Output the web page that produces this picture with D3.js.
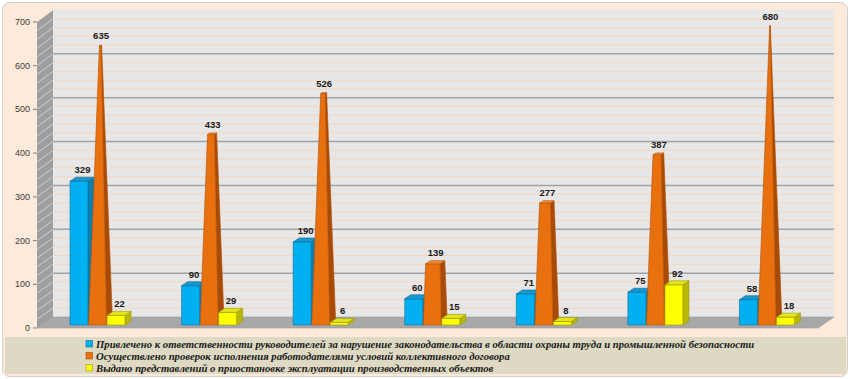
<!DOCTYPE html>
<html><head><meta charset="utf-8">
<script src="https://cdn.jsdelivr.net/npm/d3@7"></script>
<style>html,body{margin:0;padding:0;background:#fff;}svg{display:block;}</style>
</head><body>
<svg id="chart" width="850" height="379"></svg>
<script>
const categories = ["1","2","3","4","5","6","7"];
const seriesNames = [
  "Привлечено к ответственности руководителей за нарушение законодательства в области охраны труда и промышленной безопасности",
  "Осуществлено проверок исполнения работодателями условий коллективного договора",
  "Выдано представлений о приостановке эксплуатации производственных объектов"
];
const blueValues = [329, 90, 190, 60, 71, 75, 58];
const orangeValues = [635, 433, 526, 139, 277, 387, 680];
const yellowValues = [22, 29, 6, 15, 8, 92, 18];
const tickValues = [0, 100, 200, 300, 400, 500, 600, 700];

const seriesData = [blueValues, orangeValues, yellowValues];
const shapes = ["box", "pyramid", "box"];
const colors = [
  {front:"#00b0f0", side:"#0a7fb0", top:"#1896cf", stroke:"#0b6f9e"},
  {front:"#e8700e", side:"#a84b08", top:"#f08a30", stroke:"#b35206"},
  {front:"#ffff00", side:"#b8b800", top:"#e4e41c", stroke:"#9a9a00"}
];

const svg = d3.select("#chart");
svg.append("rect").attr("x",2.5).attr("y",2.5).attr("width",845).attr("height",374).attr("rx",7)
  .attr("fill","#fdeada").attr("stroke","#cfcfcf").attr("stroke-width",1);

const vMax = 700;
const yFront = d3.scaleLinear().domain([0, vMax]).range([328, 22]);
const yBack = d3.scaleLinear().domain([0, vMax]).range([317, 10]);
const yBar = d3.scaleLinear().domain([0, vMax]).range([325, 19]);
const depth = {dx:16, dy:-11};
const frontL = 37, frontR = 818;

const x0 = d3.scaleBand().domain(categories).range([frontL, frontR]);
const x1 = d3.scaleBand().domain(d3.range(3)).range([0, 55]).paddingInner(0.03);
const clusterOffset = x0.bandwidth() * 0.296;

// back wall
const backL = frontL + depth.dx, backR = frontR + depth.dx;
svg.append("rect").attr("x",backL).attr("y",yBack(vMax)).attr("width",backR-backL)
  .attr("height",yBack(0)-yBack(vMax)).attr("fill","#e7e7e7");
const minorTicks = d3.range(20, vMax, 20).filter(v => v % 100 !== 0);
svg.append("g").selectAll("line").data(minorTicks).join("line")
  .attr("x1",backL).attr("x2",backR).attr("y1",d=>yBack(d)).attr("y2",d=>yBack(d))
  .attr("stroke","#f7d6bd").attr("stroke-width",1);
svg.append("g").selectAll("line").data(tickValues.filter(v=>v>0 && v<vMax)).join("line")
  .attr("x1",backL).attr("x2",backR).attr("y1",d=>yBack(d)).attr("y2",d=>yBack(d))
  .attr("stroke","#a3a3a3").attr("stroke-width",1.5);

// left side wall
svg.append("path").attr("d", `M${frontL},${yFront(vMax)}L${backL},${yBack(vMax)}L${backL},${yBack(0)}L${frontL},${yFront(0)}Z`)
  .attr("fill","#9e9e9e");
svg.append("g").selectAll("line").data(d3.range(20, vMax + 1, 20)).join("line")
  .attr("x1",frontL).attr("x2",backL).attr("y1",d=>yFront(d)).attr("y2",d=>yBack(d))
  .attr("stroke","#d4d4d4").attr("stroke-width",0.9);

// floor
svg.append("path").attr("d", `M${frontL},${yFront(0)}L${frontR},${yFront(0)}L${backR},${yBack(0)}L${backL},${yBack(0)}Z`)
  .attr("fill","#a8a8a8").attr("stroke","#9a9a9a").attr("stroke-width",0.6);

// axis labels & ticks
const axisG = svg.append("g");
axisG.selectAll("text").data(tickValues).join("text")
  .attr("x",30).attr("y",d=>yFront(d)+3).attr("text-anchor","end")
  .attr("font-family","Liberation Sans, Arial, sans-serif").attr("font-size",9)
  .attr("fill","#3c3c3c").text(d=>d);
axisG.selectAll("line").data(tickValues).join("line")
  .attr("x1",33).attr("x2",frontL).attr("y1",d=>yFront(d)).attr("y2",d=>yFront(d))
  .attr("stroke","#7f7f7f").attr("stroke-width",1);

// bars
const bd = {dx:6, dy:-4};
function proj(x, v, z){ return [x + z*bd.dx, yBar(v) + z*bd.dy]; }
function poly(pts){ return "M" + pts.map(p=>p.join(",")).join("L") + "Z"; }
const barsG = svg.append("g");
const labels = [];
categories.forEach((c, i) => {
  seriesData.forEach((vals, s) => {
    const v = vals[i];
    const xl = x0(c) + clusterOffset + x1(s);
    const xr = xl + x1.bandwidth();
    const col = colors[s];
    const g = barsG.append("g").attr("stroke",col.stroke).attr("stroke-width",0.6).attr("stroke-linejoin","round");
    let front, side, top;
    if (shapes[s] === "box") {
      front = [proj(xl,0,0), proj(xr,0,0), proj(xr,v,0), proj(xl,v,0)];
      side = [proj(xr,0,0), proj(xr,0,1), proj(xr,v,1), proj(xr,v,0)];
      top = [proj(xl,v,0), proj(xr,v,0), proj(xr,v,1), proj(xl,v,1)];
    } else {
      const t = v / vMax;
      const xc = (xl + xr) / 2;
      const P = (x, z) => [x + (xc - x)*t, z + (0.5 - z)*t];
      const fl = P(xl,0), fr = P(xr,0), br = P(xr,1), bl = P(xl,1);
      front = [proj(xl,0,0), proj(xr,0,0), proj(fr[0],v,fr[1]), proj(fl[0],v,fl[1])];
      side = [proj(xr,0,0), proj(xr,0,1), proj(br[0],v,br[1]), proj(fr[0],v,fr[1])];
      top = [proj(fl[0],v,fl[1]), proj(fr[0],v,fr[1]), proj(br[0],v,br[1]), proj(bl[0],v,bl[1])];
    }
    g.append("path").attr("d",poly(side)).attr("fill",col.side);
    g.append("path").attr("d",poly(front)).attr("fill",col.front);
    g.append("path").attr("d",poly(top)).attr("fill",col.top);
    labels.push({x:(xl+xr)/2 + 3.5, y:yBar(v) - 8, v:v});
  });
});
svg.append("g").selectAll("text").data(labels).join("text")
  .attr("x",d=>d.x).attr("y",d=>d.y).attr("text-anchor","middle")
  .attr("font-family","Liberation Sans, Arial, sans-serif").attr("font-size",9.5).attr("font-weight","bold")
  .attr("fill","#1a1a1a").text(d=>d.v);

// legend
svg.append("rect").attr("x",5).attr("y",337).attr("width",841).attr("height",37).attr("fill","#ddd9c3");
const legY = [344, 356, 368];
const lg = svg.append("g").selectAll("g").data(seriesNames).join("g");
lg.append("rect").attr("x",86).attr("y",(d,i)=>legY[i]-3.5).attr("width",6.5).attr("height",6.5)
  .attr("fill",(d,i)=>colors[i].front).attr("stroke",(d,i)=>colors[i].stroke).attr("stroke-width",0.6);
lg.append("text").attr("x",96).attr("y",(d,i)=>legY[i]+3.8)
  .attr("font-family","Liberation Serif, Times New Roman, serif").attr("font-size",10.7)
  .attr("font-style","italic").attr("font-weight","bold").attr("fill","#1a1a1a").text(d=>d);
</script>
</body></html>
